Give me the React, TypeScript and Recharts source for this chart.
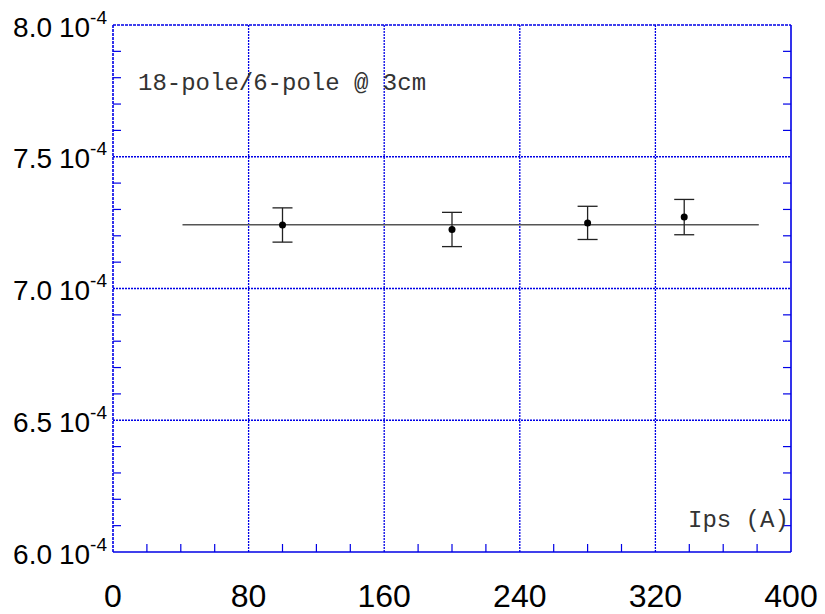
import React from "react";
import {
  ComposedChart,
  XAxis,
  YAxis,
  Line,
  Scatter,
  ErrorBar,
  ReferenceLine,
} from "recharts";

// Measurements: Ips (A) vs ratio (units of 1e-4)
const ipsValues = [100, 200, 280, 337];
const ratioValues = [7.241, 7.224, 7.249, 7.271];
const ratioErrors = [0.065, 0.065, 0.063, 0.067];

// Constant fit line
const fitX = [41, 381];
const fitY = [7.242, 7.242];

const xTicks = [0, 20, 40, 60, 80, 100, 120, 140, 160, 180, 200, 220, 240, 260, 280, 300, 320, 340, 360, 380, 400];
const xMajor = [80, 160, 240, 320];
const yTicks = [6.0, 6.1, 6.2, 6.3, 6.4, 6.5, 6.6, 6.7, 6.8, 6.9, 7.0, 7.1, 7.2, 7.3, 7.4, 7.5, 7.6, 7.7, 7.8, 7.9, 8.0];
const yMajor = [6.5, 7.0, 7.5];
const yExponent = "-4";
const annotation = "18-pole/6-pole @ 3cm";
const xTitle = "Ips (A)";

const points = ipsValues.map((x, i) => ({ x, y: ratioValues[i], err: ratioErrors[i] }));
const fitData = fitX.map((x, i) => ({ x, y: fitY[i] }));

const BLUE = "#0000e6";
const TICK = 8;
const SANS = "'Liberation Sans', Arial, sans-serif";
const MONO = "'Liberation Mono', 'Courier New', monospace";

const isMajorX = (v: number) => v % 80 === 0;
const isMajorY = (v: number) => Math.abs(v * 2 - Math.round(v * 2)) < 1e-6;

const BottomTick = (props: any) => {
  const { x, y, payload } = props;
  const v = payload.value;
  return (
    <g>
      {!isMajorX(v) && <line x1={x} x2={x} y1={y} y2={y - TICK} stroke={BLUE} strokeWidth={1.2} />}
      {isMajorX(v) && (
        <text x={x} y={y + 55} textAnchor="middle" fontSize={32} fontFamily={SANS} fill="#000">
          {v}
        </text>
      )}
    </g>
  );
};

const TopTick = (props: any) => {
  const { x, y, payload } = props;
  const v = payload.value;
  if (isMajorX(v)) return <g />;
  return <line x1={x} x2={x} y1={y} y2={y + TICK} stroke={BLUE} strokeWidth={1.2} />;
};

const LeftTick = (props: any) => {
  const { x, y, payload } = props;
  const v = payload.value;
  return (
    <g>
      {!isMajorY(v) && <line x1={x} x2={x + TICK} y1={y} y2={y} stroke={BLUE} strokeWidth={1.2} />}
      {isMajorY(v) && (
        <g>
          <text x={x - 61} y={y + 11.5} textAnchor="end" fontSize={28} fontFamily={SANS} fill="#000">
            {v.toFixed(1)}
          </text>
          <text x={x - 6} y={y + 11.5} textAnchor="end" fontSize={28} fontFamily={SANS} fill="#000">
            <tspan>10</tspan>
            <tspan fontSize={19} dy={-13}>{yExponent}</tspan>
          </text>
        </g>
      )}
    </g>
  );
};

const RightTick = (props: any) => {
  const { x, y, payload } = props;
  const v = payload.value;
  if (isMajorY(v)) return <g />;
  return <line x1={x} x2={x - TICK} y1={y} y2={y} stroke={BLUE} strokeWidth={1.2} />;
};

const Dot = (props: any) => {
  const { cx, cy } = props;
  return <circle cx={cx} cy={cy} r={3.5} fill="#000" />;
};

export default function App() {
  return (
    <div style={{ position: "absolute", left: 0, top: 0, width: 825, height: 614, background: "#fff" }}>
      <ComposedChart
        width={825}
        height={614}
        margin={{ top: 24, right: 33, bottom: 0, left: 0 }}
      >
        <XAxis
          xAxisId={0}
          dataKey="x"
          type="number"
          domain={[0, 400]}
          ticks={xTicks}
          interval={0}
          tickSize={0}
          tickMargin={0}
          tickLine={false}
          axisLine={{ stroke: BLUE, strokeWidth: 1.6 }}
          tick={<BottomTick />}
          height={62}
          allowDataOverflow
        />
        <XAxis
          xAxisId="top"
          orientation="top"
          type="number"
          domain={[0, 400]}
          ticks={xTicks}
          interval={0}
          tickSize={0}
          tickMargin={0}
          tickLine={false}
          axisLine={{ stroke: BLUE, strokeWidth: 1.6, strokeDasharray: "3 1" }}
          tick={<TopTick />}
          height={1}
          allowDataOverflow
        />
        <YAxis
          yAxisId={0}
          type="number"
          domain={[6, 8]}
          ticks={yTicks}
          interval={0}
          tickSize={0}
          tickMargin={0}
          tickLine={false}
          axisLine={{ stroke: BLUE, strokeWidth: 1.6, strokeDasharray: "3 1" }}
          tick={<LeftTick />}
          width={113}
          allowDataOverflow
        />
        <YAxis
          yAxisId="right"
          orientation="right"
          type="number"
          domain={[6, 8]}
          ticks={yTicks}
          interval={0}
          tickSize={0}
          tickMargin={0}
          tickLine={false}
          axisLine={{ stroke: BLUE, strokeWidth: 1.6 }}
          tick={<RightTick />}
          width={1}
          allowDataOverflow
        />
        {xMajor.map((v) => (
          <ReferenceLine key={"gx" + v} x={v} stroke={BLUE} strokeWidth={1.3} strokeDasharray="2 1" />
        ))}
        {yMajor.map((v) => (
          <ReferenceLine key={"gy" + v} y={v} stroke={BLUE} strokeWidth={1.3} strokeDasharray="2 1" />
        ))}
        <Line
          data={fitData}
          dataKey="y"
          type="linear"
          stroke="#555"
          strokeWidth={1.5}
          dot={false}
          activeDot={false}
          isAnimationActive={false}
        />
        <Scatter data={points} dataKey="y" fill="#000" shape={<Dot />} isAnimationActive={false}>
          <ErrorBar dataKey="err" direction="y" width={10} stroke="#222" strokeWidth={1.3} />
        </Scatter>
      </ComposedChart>
      <svg
        width={825}
        height={614}
        style={{ position: "absolute", left: 0, top: 0, pointerEvents: "none" }}
      >
        <text x={138} y={89.5} fontSize={24} fontFamily={MONO} fill="#333">
          {annotation}
        </text>
        <text x={688} y={526.5} fontSize={24} fontFamily={MONO} fill="#333">
          {xTitle}
        </text>
      </svg>
    </div>
  );
}
